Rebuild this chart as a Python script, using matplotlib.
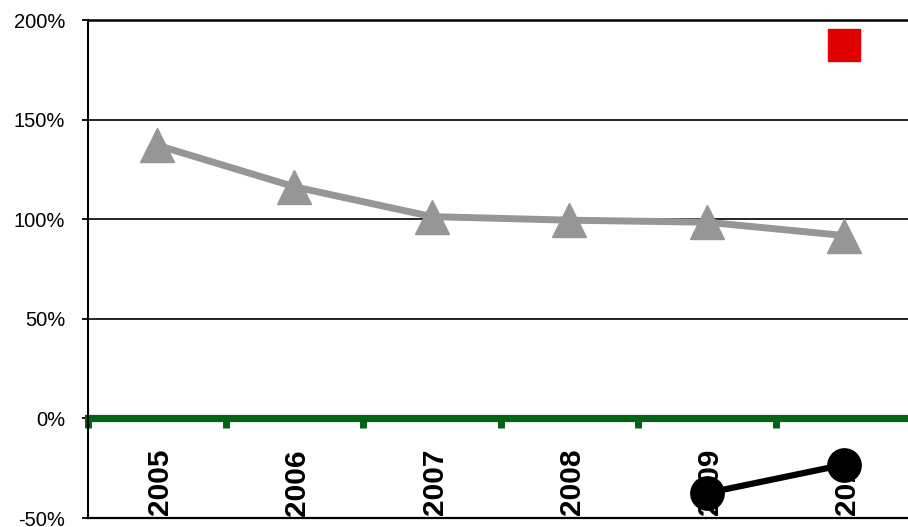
import numpy as np
import matplotlib.pyplot as plt

plt.rcParams['font.family'] = ['Liberation Sans', 'DejaVu Sans']

# ------------------------------------------------------------
# data
# ------------------------------------------------------------
years = ['2005', '2006', '2007', '2008', '2009', '2010']
gray_vals = [137.2, 116.3, 101.3, 99.5, 98.5, 91.8]
red_years = ['2010']
red_vals = [187.4]
black_years = ['2009', '2010']
black_vals = [-37.5, -23.2]
y_ticks = [-50, 0, 50, 100, 150, 200]

W, H = 908, 527
fig = plt.figure(figsize=(W / 100, H / 100), dpi=100)
ax = fig.add_axes([88 / W, 1 - 518 / H, (913 - 88) / W, (518 - 20) / H])

xpos = {y: i for i, y in enumerate(years)}
x = np.arange(len(years))

ax.set_xlim(-0.5, len(years) - 0.5)
ax.set_ylim(-50, 200)

# gridlines
for v in y_ticks:
    if v in (0, -50, 200):
        continue
    ax.axhline(v, color='black', lw=1.2, zorder=1)
ax.axhline(-50, color='black', lw=1.6, zorder=1, clip_on=False)

# spines
ax.spines['right'].set_visible(False)
ax.spines['top'].set_linewidth(1.8)
ax.spines['left'].set_linewidth(1.5)
ax.spines['bottom'].set_position(('data', 0))
ax.spines['bottom'].set_color('#006414')
ax.spines['bottom'].set_linewidth(5.2)
ax.spines['bottom'].set_zorder(2)

# x ticks at category boundaries, green
ax.set_xticks(np.arange(len(years) + 1) - 0.5)
ax.set_xticklabels([])
ax.tick_params(axis='x', direction='out', length=7, width=5, color='#006414')

ax.set_yticks(y_ticks)
ax.set_yticklabels([f'{v}%' for v in y_ticks])
ax.tick_params(axis='y', direction='out', length=4.5, width=1.3, pad=12,
               labelsize=14.5)

# category labels below zero line (cut at the bottom of the plot)
for i, y in enumerate(years):
    t = ax.annotate(y, xy=(i, 0), xytext=(2, -22), textcoords='offset points',
                    rotation=90, ha='center', va='top', fontsize=21.5,
                    fontweight='bold', zorder=2.5)
    t.set_clip_on(True)
    t.set_clip_box(ax.bbox)

# series
ax.plot(x, gray_vals, color='#969696', lw=5, marker='^', markersize=24,
        zorder=4)
ax.plot([xpos[y] for y in red_years], red_vals, linestyle='none',
        marker='s', markersize=23, color='#E00000', zorder=4)
ax.plot([xpos[y] for y in black_years], black_vals, color='black', lw=4.5,
        marker='o', markersize=24, zorder=5)

fig.savefig('out.png', dpi=100)
